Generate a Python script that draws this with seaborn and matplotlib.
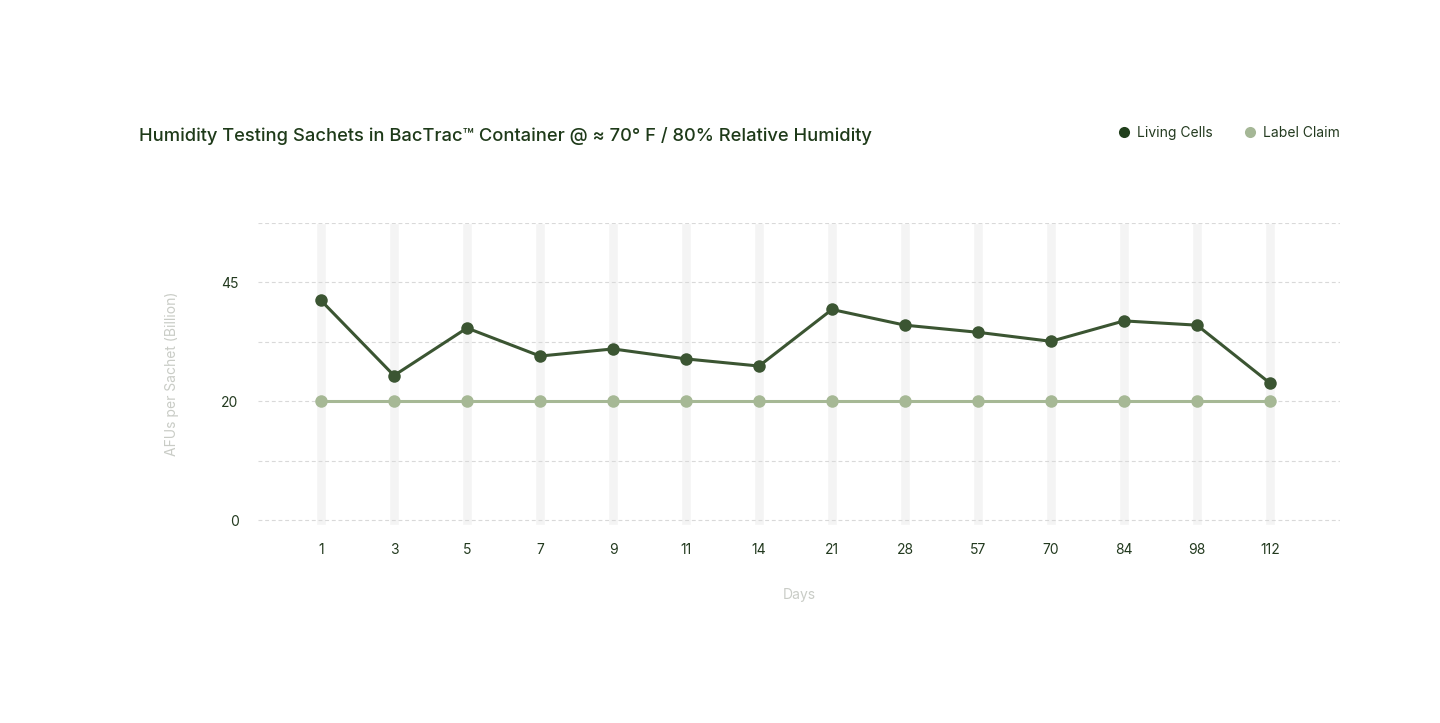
import numpy as np
import pandas as pd
import matplotlib
matplotlib.use("Agg")
import matplotlib.pyplot as plt
from matplotlib.lines import Line2D
import seaborn as sns

days = ["1", "3", "5", "7", "9", "11", "14", "21", "28", "57", "70", "84", "98", "112"]
living_cells = [41.2, 25.4, 35.4, 29.5, 31.0, 28.9, 27.4, 39.3, 36.0, 34.5, 32.6, 36.9, 36.0, 23.8]
label_claim = [20] * len(days)
y_ticks = [0, 20, 45]
y_grid = [0, 10, 20, 32.5, 45, 57.5]

DARK = "#3b5532"
LIGHT = "#a6b895"
TEXT = "#1e3a19"

sns.set_theme(style="white")
plt.rcParams['font.family'] = ['Inter', 'DejaVu Sans']

fig = plt.figure(figsize=(14.4, 7.23), dpi=100)
W, H = 1440, 723
ax = fig.add_axes([258 / W, 1 - 525 / H, (1340 - 258) / W, (525 - 223) / H])

def fwd(y):
    y = np.asarray(y, dtype=float)
    return np.where(y <= 20, y / 20.0, 1 + (y - 20) / 25.0)

def inv(t):
    t = np.asarray(t, dtype=float)
    return np.where(t <= 1, t * 20.0, 20 + (t - 1) * 25.0)

ax.set_yscale('function', functions=(fwd, inv))
y_bottom = float(inv(-5 / 119))
y_top = 57.5
ax.set_ylim(y_bottom, y_top)

x = np.arange(len(days))
ax.set_xlim((258 - 321) / 73, (1340 - 321) / 73)

# background bands
ax.bar(x, y_top - y_bottom, bottom=y_bottom, width=10 / 73, color="#f4f4f4", zorder=0)

# gridlines
for g in y_grid:
    ax.axhline(g, color="#d9d9d9", lw=0.8, ls=(0, (3.5, 2.5)), zorder=1)

df = pd.DataFrame({"x": np.concatenate([x, x]),
                   "value": living_cells + label_claim,
                   "series": ["Living Cells"] * len(days) + ["Label Claim"] * len(days)})
sns.lineplot(data=df, x="x", y="value", hue="series",
             palette={"Living Cells": DARK, "Label Claim": LIGHT},
             hue_order=["Label Claim", "Living Cells"],
             marker="o", markersize=9, markeredgewidth=0, linewidth=2.2,
             legend=False, ax=ax, zorder=3)

ax.set_xticks(x)
ax.set_xticklabels(days)
ax.set_yticks(y_ticks)
ax.set_yticklabels([str(v) for v in y_ticks])
ax.tick_params(axis='both', length=0, labelsize=10, labelcolor="#233a1f")
ax.tick_params(axis='x', pad=13)
ax.tick_params(axis='y', pad=14)
for s in ax.spines.values():
    s.set_visible(False)

ax.set_xlabel("Days", color="#c9ccc6", fontsize=10, labelpad=22)
ax.set_ylabel("AFUs per Sachet (Billion)", color="#c9ccc6", fontsize=10, labelpad=30)

fig.text(139 / W, 1 - 136 / H, "Humidity Testing Sachets in BacTrac™ Container @ ≈ 70° F / 80% Relative Humidity",
         fontsize=13.2, fontweight=500, color=TEXT, va='center', ha='left')

handles = [Line2D([], [], marker='o', ls='none', color="#213f1c", markersize=8, markeredgewidth=0),
           Line2D([], [], marker='o', ls='none', color="#a5b796", markersize=8, markeredgewidth=0)]
fig.legend(handles, ["Living Cells", "Label Claim"], ncol=2, frameon=False,
           loc='center right', bbox_to_anchor=(1345 / W, 1 - 133 / H),
           fontsize=10, labelcolor="#233a1f", handletextpad=0.4, columnspacing=2.2,
           handlelength=1.0, borderaxespad=0)

fig.savefig("out.png", dpi=100, facecolor="white")
